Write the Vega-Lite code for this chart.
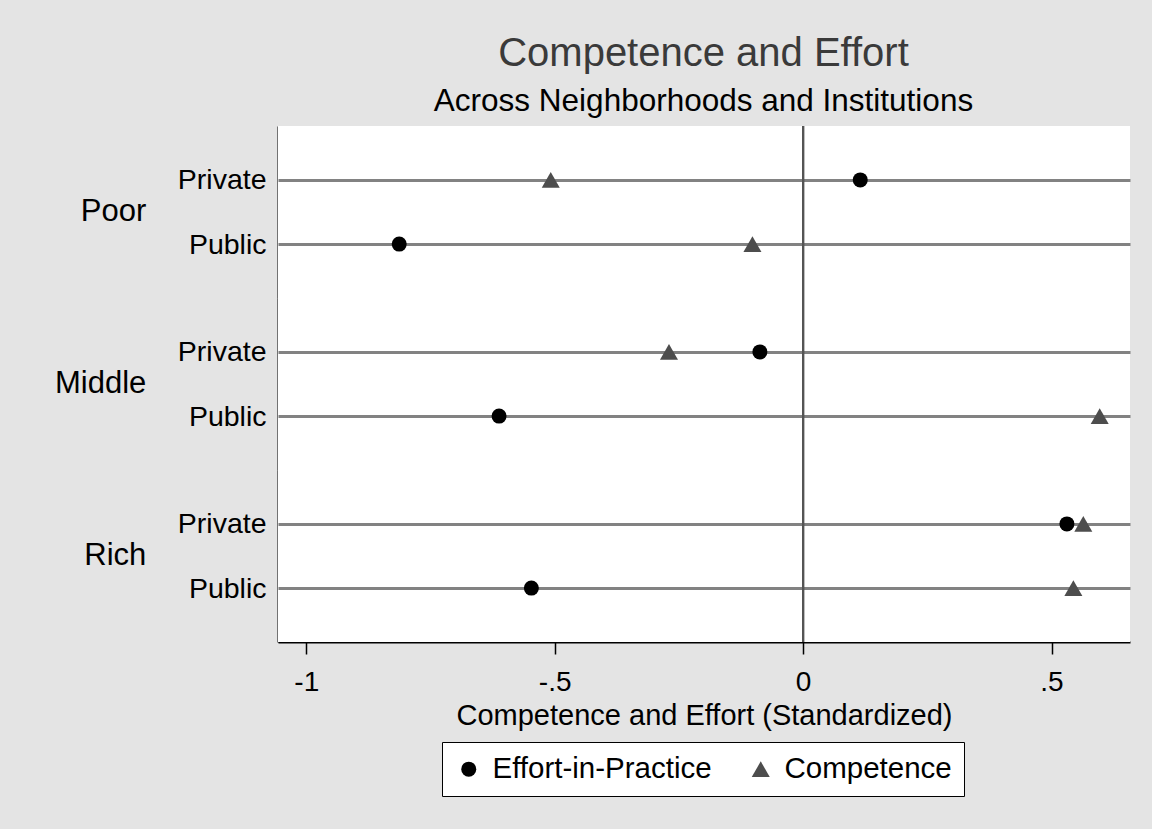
{
  "$schema": "https://vega.github.io/schema/vega-lite/v6.json",
  "background": "#e4e4e4",
  "padding": {"left": 54, "top": 33, "right": 23, "bottom": 33},
  "title": {
    "text": "Competence and Effort",
    "subtitle": "Across Neighborhoods and Institutions",
    "font": "Liberation Sans",
    "fontSize": 40,
    "fontWeight": "normal",
    "color": "#3a3a3a",
    "subtitleFont": "Liberation Sans",
    "subtitleFontSize": 31.5,
    "subtitleColor": "black",
    "subtitlePadding": 12,
    "anchor": "middle",
    "dx": 111,
    "offset": 8
  },
  "data": {
    "values": [
      {"nbhd": "Poor", "type": "Private", "measure": "Effort-in-Practice", "value": 0.115},
      {"nbhd": "Poor", "type": "Private", "measure": "Competence", "value": -0.508},
      {"nbhd": "Poor", "type": "Public", "measure": "Effort-in-Practice", "value": -0.813},
      {"nbhd": "Poor", "type": "Public", "measure": "Competence", "value": -0.102},
      {"nbhd": "Middle", "type": "Private", "measure": "Effort-in-Practice", "value": -0.087},
      {"nbhd": "Middle", "type": "Private", "measure": "Competence", "value": -0.27},
      {"nbhd": "Middle", "type": "Public", "measure": "Effort-in-Practice", "value": -0.612},
      {"nbhd": "Middle", "type": "Public", "measure": "Competence", "value": 0.597},
      {"nbhd": "Rich", "type": "Private", "measure": "Effort-in-Practice", "value": 0.531},
      {"nbhd": "Rich", "type": "Private", "measure": "Competence", "value": 0.564},
      {"nbhd": "Rich", "type": "Public", "measure": "Effort-in-Practice", "value": -0.547},
      {"nbhd": "Rich", "type": "Public", "measure": "Competence", "value": 0.544}
    ]
  },
  "facet": {
    "row": {
      "field": "nbhd",
      "type": "nominal",
      "sort": ["Poor", "Middle", "Rich"],
      "header": {
        "title": null,
        "labelOrient": "left",
        "labelAngle": 0,
        "labelAlign": "left",
        "labelBaseline": "middle",
        "labelFont": "Liberation Sans",
        "labelFontSize": 31,
        "labelColor": "black",
        "labelPadding": 31
      }
    }
  },
  "spacing": 0,
  "bounds": "flush",
  "spec": {
    "width": 852,
    "height": 172,
    "layer": [
      {
        "mark": {"type": "rule", "color": "#555555", "strokeWidth": 2},
        "encoding": {"x": {"datum": 0, "type": "quantitative"}}
      },
      {
        "mark": {"type": "point", "filled": true, "opacity": 1, "strokeWidth": 0},
        "encoding": {
          "x": {
            "field": "value",
            "type": "quantitative",
            "scale": {"domain": [-1.057, 0.658], "nice": false, "zero": false},
            "axis": {
              "values": [-1, -0.5, 0, 0.5],
              "labelExpr": "datum.value == -1 ? '-1' : datum.value == -0.5 ? '-.5' : datum.value == 0 ? '0' : '.5'",
              "title": "Competence and Effort (Standardized)",
              "grid": false,
              "domainColor": "black",
              "domainWidth": 2,
              "tickColor": "black",
              "tickWidth": 1.5,
              "tickSize": 12,
              "labelFont": "Liberation Sans",
              "labelFontSize": 28,
              "labelColor": "black",
              "labelPadding": 14,
              "titleFont": "Liberation Sans",
              "titleFontSize": 29,
              "titleFontWeight": "normal",
              "titleColor": "black",
              "titlePadding": 5
            }
          },
          "y": {
            "field": "type",
            "type": "nominal",
            "sort": ["Private", "Public"],
            "scale": {"type": "point", "padding": 0.84},
            "axis": {
              "title": null,
              "ticks": false,
              "domainColor": "black",
              "domainWidth": 2,
              "grid": true,
              "gridColor": "#828282",
              "gridWidth": 3,
              "labelFont": "Liberation Sans",
              "labelFontSize": 28.5,
              "labelColor": "black",
              "labelPadding": 12
            }
          },
          "shape": {
            "field": "measure",
            "type": "nominal",
            "scale": {"domain": ["Effort-in-Practice", "Competence"], "range": ["circle", "triangle-up"]},
            "legend": {
              "title": null,
              "orient": "none",
              "legendX": 164,
              "legendY": 616,
              "direction": "horizontal",
              "strokeColor": "black",
              "fillColor": "white",
              "padding": 12,
              "labelFont": "Liberation Sans",
              "labelFontSize": 29.5,
              "labelColor": "black",
              "labelLimit": 500,
              "columnPadding": 34,
              "labelOffset": 9
            }
          },
          "color": {
            "field": "measure",
            "type": "nominal",
            "scale": {"domain": ["Effort-in-Practice", "Competence"], "range": ["black", "#4d4d4d"]},
            "legend": {
              "title": null,
              "orient": "none",
              "legendX": 164,
              "legendY": 616,
              "direction": "horizontal",
              "strokeColor": "black",
              "fillColor": "white",
              "padding": 12,
              "labelFont": "Liberation Sans",
              "labelFontSize": 29.5,
              "labelColor": "black",
              "labelLimit": 500,
              "columnPadding": 34,
              "labelOffset": 9
            }
          },
          "size": {
            "field": "measure",
            "type": "nominal",
            "scale": {"domain": ["Effort-in-Practice", "Competence"], "range": [225, 324]},
            "legend": {
              "title": null,
              "orient": "none",
              "legendX": 164,
              "legendY": 616,
              "direction": "horizontal",
              "strokeColor": "black",
              "fillColor": "white",
              "padding": 12,
              "labelFont": "Liberation Sans",
              "labelFontSize": 29.5,
              "labelColor": "black",
              "labelLimit": 500,
              "columnPadding": 34,
              "labelOffset": 9
            }
          }
        }
      }
    ]
  },
  "config": {
    "view": {"fill": "white", "stroke": null},
    "font": "Liberation Sans"
  }
}
